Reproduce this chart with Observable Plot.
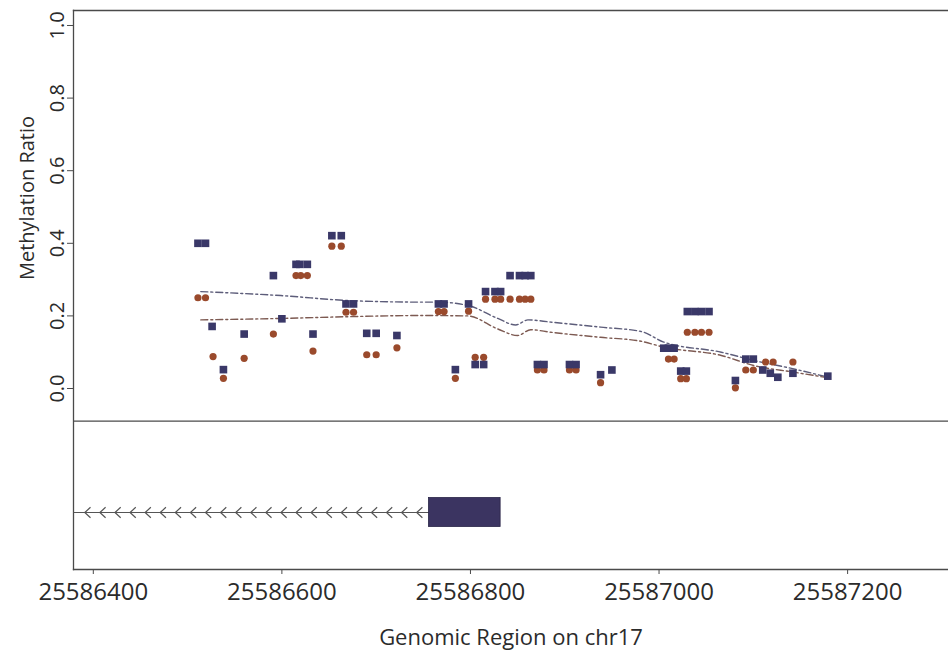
<!DOCTYPE html>
<html>
<head>
<meta charset="utf-8">
<script src="https://cdn.jsdelivr.net/npm/d3@7"></script>
<script src="https://cdn.jsdelivr.net/npm/@observablehq/plot@0.6"></script>
<style>
  html, body { margin: 0; padding: 0; background: #ffffff; }
  #chart { width: 948px; height: 658px; }
</style>
</head>
<body>
<div id="chart"></div>
<script>
// ---- data ----
const xTicks = [25586400, 25586600, 25586800, 25587000, 25587200];
const yTicks = [0, 0.2, 0.4, 0.6, 0.8, 1.0];
const xLabel = "Genomic Region on chr17";
const yLabel = "Methylation Ratio";

// squares (navy series)
const sqPos = [25586511, 25586519, 25586526, 25586538, 25586560, 25586591, 25586600, 25586615, 25586619, 25586627,
  25586633, 25586653, 25586663, 25586668, 25586676, 25586690, 25586700, 25586722, 25586766, 25586772,
  25586784, 25586798, 25586805, 25586814, 25586816, 25586826, 25586832, 25586842, 25586852, 25586858,
  25586864, 25586871, 25586878, 25586905, 25586912, 25586938, 25586950, 25587005, 25587010, 25587016,
  25587023, 25587029, 25587030, 25587038, 25587045, 25587053, 25587081, 25587092, 25587100, 25587110,
  25587118, 25587126, 25587142, 25587179];
const sqVal = [0.40, 0.40, 0.171, 0.052, 0.15, 0.311, 0.192, 0.342, 0.342, 0.342,
  0.15, 0.421, 0.421, 0.233, 0.233, 0.152, 0.152, 0.146, 0.233, 0.233,
  0.052, 0.233, 0.066, 0.066, 0.267, 0.267, 0.267, 0.311, 0.311, 0.311,
  0.311, 0.066, 0.066, 0.066, 0.066, 0.038, 0.051, 0.111, 0.111, 0.111,
  0.048, 0.048, 0.212, 0.212, 0.212, 0.212, 0.022, 0.081, 0.081, 0.051,
  0.042, 0.031, 0.042, 0.034];

// circles (brown series)
const ciPos = [25586511, 25586519, 25586527, 25586538, 25586560, 25586591, 25586615, 25586620, 25586627, 25586633,
  25586653, 25586663, 25586668, 25586676, 25586690, 25586700, 25586722, 25586766, 25586772, 25586784,
  25586798, 25586805, 25586814, 25586816, 25586826, 25586832, 25586842, 25586852, 25586858, 25586864,
  25586871, 25586878, 25586905, 25586912, 25586938, 25587010, 25587016, 25587023, 25587029, 25587030,
  25587038, 25587045, 25587053, 25587081, 25587092, 25587100, 25587113, 25587121, 25587142];
const ciVal = [0.25, 0.25, 0.088, 0.028, 0.083, 0.15, 0.311, 0.311, 0.311, 0.103,
  0.392, 0.392, 0.21, 0.21, 0.093, 0.093, 0.112, 0.212, 0.212, 0.028,
  0.213, 0.086, 0.086, 0.246, 0.246, 0.246, 0.246, 0.246, 0.246, 0.246,
  0.051, 0.051, 0.051, 0.051, 0.016, 0.081, 0.081, 0.027, 0.027, 0.155,
  0.155, 0.155, 0.155, 0.002, 0.051, 0.051, 0.073, 0.073, 0.073];

// smoothed trend lines
const upPos = [25586514, 25586599, 25586673, 25586747, 25586765, 25586797, 25586829, 25586848, 25586861, 25586885,
  25586938, 25586981, 25587005, 25587066, 25587101, 25587143, 25587178];
const upVal = [0.267, 0.256, 0.242, 0.238, 0.238, 0.229, 0.193, 0.175, 0.189, 0.183,
  0.169, 0.157, 0.128, 0.10, 0.077, 0.054, 0.032];
const loPos = [25586514, 25586599, 25586673, 25586747, 25586797, 25586829, 25586850, 25586864, 25586885, 25586938,
  25586981, 25587005, 25587066, 25587101, 25587143, 25587178];
const loVal = [0.189, 0.193, 0.198, 0.201, 0.20, 0.164, 0.146, 0.162, 0.155, 0.141,
  0.13, 0.114, 0.091, 0.063, 0.045, 0.03];

// gene model (minus strand)
const geneStart = 25586379;
const exonStart = 25586756;
const exonEnd = 25586832;
const chevronStep = 16;

// ---- layout / style ----
const xDomain = [25586379, 25587307];
const yDomain = [-0.4986, 1.0413];
const separatorY = -0.090;
const geneY = -0.3416;
const exonHalf = 0.040;
const font = "'Open Sans', 'Noto Sans', sans-serif";
const axisColor = "#4a4a4a";
const textColor = "#2b2b2b";
const sqColor = "#3a3868";
const ciColor = "#9a4a2c";
const exonColor = "#3b3461";

const squares = sqPos.map((p, i) => ({pos: p, val: sqVal[i]}));
const circles = ciPos.map((p, i) => ({pos: p, val: ciVal[i]}));
const upper = upPos.map((p, i) => ({pos: p, val: upVal[i]}));
const lower = loPos.map((p, i) => ({pos: p, val: loVal[i]}));
const chevrons = d3.range(exonStart - 10, geneStart + 4, -chevronStep);

const chevronSymbol = {
  draw(context, size) {
    const r = Math.sqrt(size / Math.PI);
    context.moveTo(r * 0.55, -r);
    context.lineTo(-r * 0.55, 0);
    context.lineTo(r * 0.55, r);
  }
};

const plot = Plot.plot({
  width: 948,
  height: 658,
  marginLeft: 73,
  marginRight: 0,
  marginTop: 10,
  marginBottom: 89,
  style: {fontFamily: font, color: textColor, background: "#ffffff", overflow: "visible"},
  x: {domain: xDomain},
  y: {domain: yDomain},
  marks: [
    Plot.frame({anchor: "top", stroke: axisColor, strokeWidth: 1.3}),
    Plot.frame({anchor: "left", stroke: axisColor, strokeWidth: 1.3}),
    Plot.frame({anchor: "bottom", stroke: axisColor, strokeWidth: 1.3}),
    Plot.ruleY([separatorY], {stroke: axisColor, strokeWidth: 1.3}),
    // gene track
    Plot.link([{x1: geneStart, x2: exonStart}], {x1: "x1", x2: "x2", y1: geneY, y2: geneY, stroke: "#555", strokeWidth: 1.2}),
    Plot.dot(chevrons, {x: d => d, y: geneY, symbol: chevronSymbol, r: 5.2, fill: "none", stroke: "#555", strokeWidth: 1.2}),
    Plot.rect([{x1: exonStart, x2: exonEnd}], {x1: "x1", x2: "x2", y1: geneY + exonHalf, y2: geneY - exonHalf, fill: exonColor, stroke: "#2a2648", strokeWidth: 0.8}),
    // trend lines
    Plot.line(upper, {x: "pos", y: "val", stroke: "#5d5d7a", strokeWidth: 1.4, strokeDasharray: "7,3,2,3", curve: "monotone-x"}),
    Plot.line(lower, {x: "pos", y: "val", stroke: "#7d5a52", strokeWidth: 1.4, strokeDasharray: "7,3,2,3", curve: "monotone-x"}),
    // points
    Plot.dot(circles, {x: "pos", y: "val", r: 3.6, fill: ciColor, stroke: "none", symbol: "circle"}),
    Plot.dot(squares, {x: "pos", y: "val", r: 4.3, fill: sqColor, stroke: "none", symbol: "square"}),
    // axes
    Plot.axisY(yTicks, {tickSize: 6, tickPadding: 4, tickRotate: -90, tickFormat: d3.format(".1f"), fontSize: 20, stroke: axisColor, fill: textColor, label: null}),
    Plot.axisX(xTicks, {tickSize: 5, tickPadding: 8, tickFormat: d => String(d), fontSize: 24, stroke: axisColor, fill: textColor, label: null}),
    Plot.text([yLabel], {frameAnchor: "left", rotate: -90, dx: -46, dy: -92, fontSize: 20, fill: textColor, textAnchor: "middle", lineAnchor: "middle"}),
    Plot.text([xLabel], {frameAnchor: "bottom", dy: 68, fontSize: 22, fill: textColor, textAnchor: "middle", lineAnchor: "middle"})
  ]
});

document.getElementById("chart").appendChild(plot);
</script>
</body>
</html>
